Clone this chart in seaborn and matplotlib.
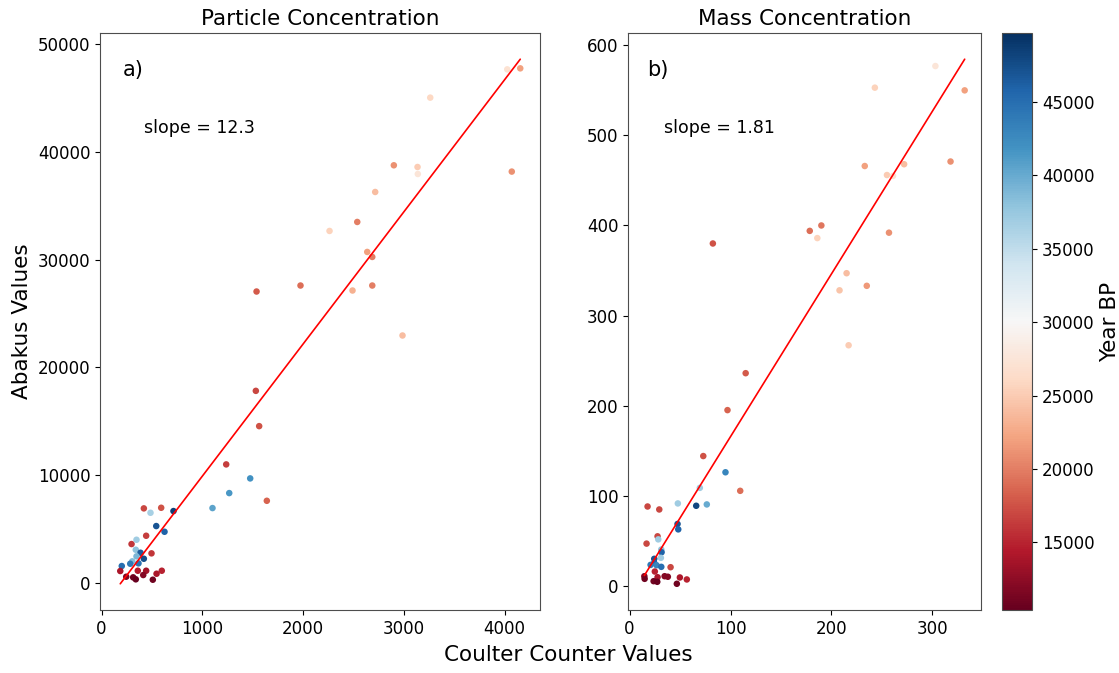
import numpy as np
import pandas as pd
import matplotlib
matplotlib.use("Agg")
import matplotlib.pyplot as plt
from matplotlib.ticker import MultipleLocator
import seaborn as sns

# particle concentration: coulter counter vs abakus, coloured by age
cc_particle = [4025, 4154, 3261, 2900, 3135, 3138, 4070, 2715, 2537, 2262, 2636, 2686,
               1538, 1974, 2490, 2686, 2986, 1531, 1564, 1237, 1475, 1267, 1101, 1640,
               420, 486, 592, 714, 543, 625, 443, 298, 347, 340, 496, 387, 347, 420,
               305, 285, 367, 201, 186, 360, 443, 598, 546, 414, 245, 314, 340, 509]
ab_particle = [47637, 47730, 45014, 38740, 38582, 37933, 38156, 36265, 33485, 32651, 30705, 30241,
               27034, 27590, 27127, 27590, 22956, 17822, 14550, 11001, 9703, 8341, 6951, 7627,
               6923, 6515, 6979, 6673, 5283, 4754, 4384, 3614, 4013, 3086, 2752, 2808, 2474, 2252,
               2011, 1789, 1826, 1576, 1112, 1140, 1140, 1140, 862, 741, 584, 528, 343, 306]
age_particle = [27000, 22000, 26000, 21000, 25000, 27500, 21000, 24000, 20000, 25500, 22000, 20000,
                18000, 19000, 23000, 20000, 24000, 17000, 17500, 16500, 42000, 41500, 40500, 18500,
                17000, 36500, 17500, 48500, 47000, 46000, 16500, 16000, 37000, 38000, 16000, 46500, 39000, 47500,
                38500, 44000, 44500, 45000, 14000, 14500, 13500, 15000, 14000, 12000, 11500, 11000, 10400, 11000]

# mass concentration
cc_mass = [303, 243, 332, 233, 255, 261, 272, 318, 178.5, 190, 186, 82.5, 257, 215, 208, 235, 217,
           115, 97, 73, 95, 69.6, 109.6,
           17.8, 29.4, 47.8, 66, 76.5, 47.5, 48.2, 16.8, 27.7, 28.4, 31.4, 31.7, 31, 24.4, 24.4,
           20.8, 26.7, 31.4, 25, 40.6, 14.6, 14.9, 27.7, 34.7, 37.9, 23.8, 27.4, 49.8, 56.7, 46.8]
ab_mass = [577, 553, 550, 466, 456, 455, 468, 471, 394, 400, 386, 380, 392, 347, 328, 333, 267,
           236, 195, 144, 126, 108.7, 105.4,
           88, 84.7, 91.4, 88.8, 90.3, 68.6, 62.6, 46.8, 54.9, 51.5, 40.2, 37.2, 31, 29.9, 25.4,
           23.2, 22.8, 21, 15.8, 20.6, 10.6, 7.7, 9.5, 10.6, 10, 5.1, 4.4, 9.2, 7, 2.2]
age_mass = [27500, 25500, 22000, 22000, 25000, 27000, 24000, 21000, 19000, 19500, 25500, 17500, 21000,
            24000, 24500, 21500, 25000,
            18000, 18500, 17500, 43000, 37000, 19000,
            17000, 17000, 37000, 48000, 40000, 47000, 46000, 17000, 17000, 37000, 38000, 46000, 37000, 47000, 46000,
            44000, 43000, 45000, 15000, 17000, 12000, 11000, 14000, 12000, 12000, 11000, 10500, 14000, 15000, 11000]

# fitted regression lines
slope_a, intercept_a = 12.26, -2350
slope_b, intercept_b = 1.806, -15.0

age_min, age_max = 10400, 49700

sns.set_style("ticks")
plt.rcParams['font.family'] = ['DejaVu Sans']
plt.rcParams['text.color'] = 'black'
plt.rcParams['axes.labelcolor'] = 'black'
plt.rcParams['xtick.color'] = 'black'
plt.rcParams['ytick.color'] = 'black'

fig = plt.figure(figsize=(11.19, 6.73), dpi=100)
ax1 = fig.add_axes([0.0896, 0.0936, 0.3932, 0.8574])
ax2 = fig.add_axes([0.5615, 0.0936, 0.3149, 0.8574])
cax = fig.add_axes([0.8954, 0.0936, 0.0269, 0.8574])

panels = [
    (ax1, cc_particle, ab_particle, age_particle, slope_a, intercept_a, "Particle Concentration", "a)", 1, 1000),
    (ax2, cc_mass, ab_mass, age_mass, slope_b, intercept_b, "Mass Concentration", "b)", 2, 100),
]

for ax, xs, ys, ages, m, b, title, tag, nd, xstep in panels:
    df = pd.DataFrame({"cc": xs, "ab": ys, "age": ages})
    sns.scatterplot(data=df, x="cc", y="ab", hue="age", palette="RdBu",
                    hue_norm=(age_min, age_max), s=22, linewidth=0,
                    legend=False, ax=ax)
    xl = np.array([df["cc"].min(), df["cc"].max()])
    ax.plot(xl, m * xl + b, color="red", lw=1.2)
    ax.xaxis.set_major_locator(MultipleLocator(xstep))
    ax.set_title(title, fontsize=15.5, color="black")
    ax.set_xlabel("")
    ax.set_ylabel("")
    ax.tick_params(labelsize=12)
    ax.text(0.052, 0.935, tag, transform=ax.transAxes, fontsize=15, va="center")
    ax.text(0.10, 0.835, f"slope = {m:.{nd}f}", transform=ax.transAxes,
            fontsize=12.5, va="center")
    for sp in ax.spines.values():
        sp.set_color("0.3")

ax1.set_ylabel("Abakus Values", fontsize=15.5)
fig.text(0.508, 0.027, "Coulter Counter Values", fontsize=15.5, ha="center", va="center")

sm = plt.cm.ScalarMappable(cmap="RdBu", norm=plt.Normalize(age_min, age_max))
cb = fig.colorbar(sm, cax=cax)
cb.set_label("Year BP", fontsize=15.5)
cb.ax.tick_params(labelsize=12)
cb.outline.set_edgecolor("0.3")

fig.savefig("out.png", dpi=100)
